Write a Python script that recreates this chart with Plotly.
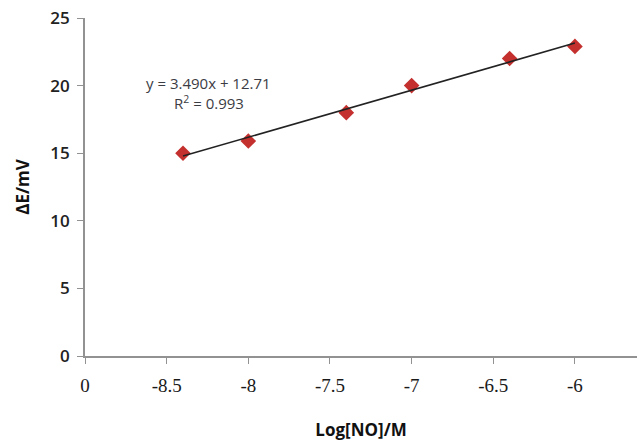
import numpy as np
import plotly.graph_objects as go

# Data
log_no = [-8.4, -8.0, -7.4, -7.0, -6.4, -6.0]
delta_e = [15.0, 15.9, 18.0, 20.0, 22.0, 22.9]
x_tickvals = [-9, -8.5, -8, -7.5, -7, -6.5, -6]
x_ticktext = ["0", "-8.5", "-8", "-7.5", "-7", "-6.5", "-6"]
y_tickvals = [0, 5, 10, 15, 20, 25]
equation_line = "y = 3.490x + 12.71"
r2_line = "R<sup>2</sup> = 0.993"

# Linear trendline derived from the data
slope, intercept = np.polyfit(log_no, delta_e, 1)
fit_x = [min(log_no), max(log_no)]
fit_y = [slope * v + intercept for v in fit_x]

fig = go.Figure()
fig.add_trace(go.Scatter(
    x=log_no, y=delta_e, mode="markers",
    marker=dict(symbol="diamond", size=12, color="#C4302E",
                line=dict(width=0)),
    showlegend=False, hoverinfo="x+y"))
fig.add_trace(go.Scatter(
    x=fit_x, y=fit_y, mode="lines",
    line=dict(color="#222222", width=1.6),
    showlegend=False, hoverinfo="skip"))

eq_font = dict(family="Open Sans", size=15, color="#3c3c44")
fig.add_annotation(xref="paper", yref="paper", x=(208 - 85) / 552, y=(356 - 83) / 338,
                   text=equation_line, showarrow=False, font=eq_font,
                   xanchor="center", yanchor="middle")
fig.add_annotation(xref="paper", yref="paper", x=(209 - 85) / 552, y=(356 - 103) / 338,
                   text=r2_line, showarrow=False, font=eq_font,
                   xanchor="center", yanchor="middle")

fig.update_layout(
    width=637, height=444,
    margin=dict(l=85, r=0, t=18, b=88),
    paper_bgcolor="white", plot_bgcolor="white",
    font=dict(family="Open Sans", color="#222222"),
    xaxis=dict(
        range=[-9, -5.62], tickmode="array",
        tickvals=x_tickvals, ticktext=x_ticktext,
        showgrid=False, zeroline=False,
        showline=True, linecolor="#929292", linewidth=1.6,
        ticks="outside", ticklen=6, tickcolor="#929292", tickwidth=1.2,
        ticklabelstandoff=5,
        tickfont=dict(family="Liberation Serif", size=19, color="#1a1a1a"),
        title=dict(text="<b>Log[NO]/M</b>", standoff=30,
                   font=dict(family="Open Sans", size=17, color="#111111")),
    ),
    yaxis=dict(
        range=[0, 25], tickmode="array", tickvals=y_tickvals,
        showgrid=False, zeroline=False,
        showline=True, linecolor="#929292", linewidth=1.6,
        ticks="outside", ticklen=6, tickcolor="#929292", tickwidth=1.2,
        ticklabelstandoff=4,
        tickfont=dict(family="Open Sans", size=17, color="#222222", weight=600),
        title=dict(text="<b>ΔE/mV</b>", standoff=16,
                   font=dict(family="Open Sans", size=17, color="#111111")),
    ),
)

fig.write_html("out.html")
